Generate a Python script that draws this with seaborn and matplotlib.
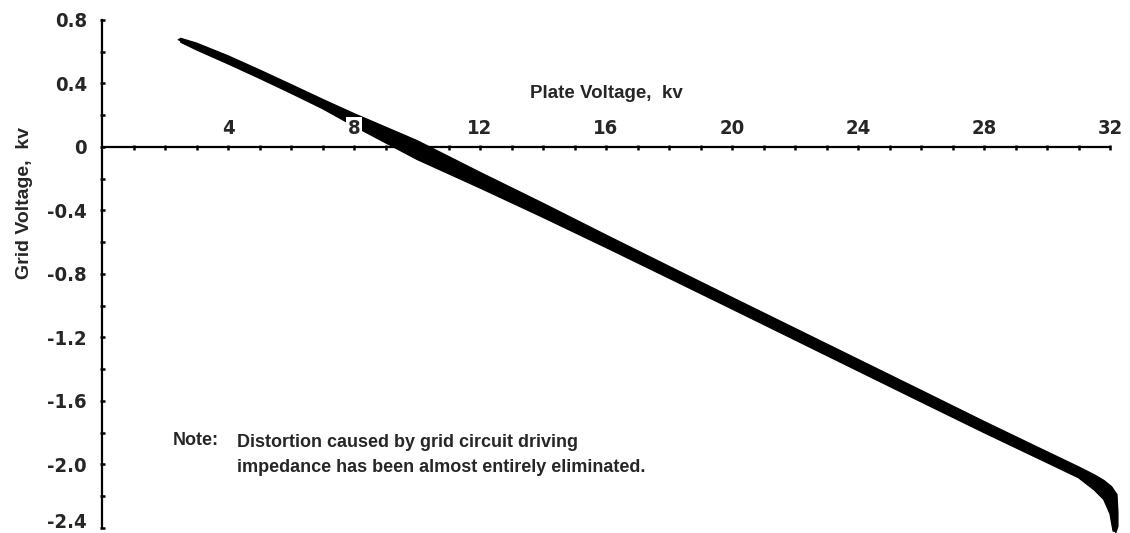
import numpy as np
import matplotlib
matplotlib.use("Agg")
import matplotlib.pyplot as plt
from matplotlib import font_manager
from matplotlib.ticker import FixedLocator, FixedFormatter
import seaborn as sns

# ---- data (kv) ----
upper_x = [2.42, 2.5, 3, 4, 5, 6, 7, 8, 9, 10, 11, 12, 14, 16, 18, 20, 22, 24,
           26, 28, 30, 31, 31.5, 31.8, 32.05, 32.22, 32.25, 32.25, 32.18]
upper_y = [0.675, 0.684, 0.654, 0.574, 0.485, 0.393, 0.300, 0.210, 0.125, 0.040,
           -0.060, -0.160, -0.355, -0.555, -0.752, -0.948, -1.143, -1.338,
           -1.533, -1.729, -1.920, -2.015, -2.065, -2.100, -2.140, -2.190,
           -2.300, -2.390, -2.430]
lower_x = [2.5, 3, 4, 5, 6, 7, 8, 9, 10, 11, 12, 14, 16, 18, 20, 22, 24, 26,
           28, 30, 31, 31.5, 31.8, 32.0, 32.1]
lower_y = [0.660, 0.612, 0.524, 0.433, 0.339, 0.242, 0.132, 0.027, -0.078,
           -0.168, -0.258, -0.443, -0.633, -0.826, -1.020, -1.215, -1.410,
           -1.605, -1.799, -1.988, -2.083, -2.160, -2.220, -2.310, -2.420]

x_major = [4, 8, 12, 16, 20, 24, 28, 32]
x_major_labels = ["4", "8", "12", "16", "20", "24", "28", "32"]
x_minor = list(range(1, 33))
y_major = [0.8, 0.4, 0.0, -0.4, -0.8, -1.2, -1.6, -2.0, -2.4]
y_major_labels = ["0.8", "0.4", "0", "-0.4", "-0.8", "-1.2", "-1.6", "-2.0", "-2.4"]
y_minor = [0.6, 0.2, -0.2, -0.6, -1.0, -1.4, -1.8, -2.2]

x_label = "Plate Voltage,  kv"
y_label = "Grid Voltage,  kv"
note_head = "Note:"
note_body = "Distortion caused by grid circuit driving\nimpedance has been almost entirely eliminated."

# ---- style ----
sns.set_style("white")
ttf = font_manager.fontManager.ttflist
names = {f.name for f in ttf}
regular = "Liberation Sans" if "Liberation Sans" in names else "DejaVu Sans"
plt.rcParams["font.family"] = [regular, "DejaVu Sans"]

# condensed face for the tick digits, if one is installed
tick_family, tick_stretch, tick_size = [regular, "DejaVu Sans"], "normal", 14.5
if "Liberation Sans Narrow" in names:
    tick_family, tick_size = ["Liberation Sans Narrow", "DejaVu Sans"], 15.5
elif any(f.name == "DejaVu Sans" and f.stretch == "condensed" and f.weight in (700, "bold") for f in ttf):
    tick_family, tick_stretch, tick_size = ["DejaVu Sans"], "condensed", 14.5

fig = plt.figure(figsize=(11.3, 5.33), dpi=100)
ax = fig.add_axes([0.0903, 0.0094, 0.8920, 0.9531])
ax.set_xlim(0, 32)
ax.set_ylim(-2.4, 0.8)
ax.set_axisbelow(False)

# trace band (oscilloscope loop)
loop_x = np.r_[upper_x, lower_x[::-1]]
loop_y = np.r_[upper_y, lower_y[::-1]]
ax.fill(loop_x, loop_y, color="black", lw=0, clip_on=False, zorder=2)
sns.lineplot(x=upper_x, y=upper_y, sort=False, color="black", lw=1.0,
             clip_on=False, zorder=2, ax=ax, estimator=None)
sns.lineplot(x=lower_x, y=lower_y, sort=False, color="black", lw=1.0,
             clip_on=False, zorder=2, ax=ax, estimator=None)

# spines
ax.spines["right"].set_visible(False)
ax.spines["bottom"].set_position(("data", 0))
ax.spines["top"].set_position(("data", 0))
ax.spines["top"].set_visible(False)
for s in ["left", "bottom"]:
    ax.spines[s].set_linewidth(1.6)
    ax.spines[s].set_color("black")
    ax.spines[s].set_zorder(2.5)

# ticks
ax.xaxis.set_major_locator(FixedLocator(x_major))
ax.xaxis.set_major_formatter(FixedFormatter(x_major_labels))
ax.xaxis.set_minor_locator(FixedLocator(x_minor))
ax.yaxis.set_major_locator(FixedLocator(y_major))
ax.yaxis.set_major_formatter(FixedFormatter(y_major_labels))
ax.yaxis.set_minor_locator(FixedLocator(y_minor))

ax.tick_params(axis="x", which="both", direction="inout", length=3.6, width=1.8,
               color="black", bottom=True, top=False, labelbottom=False,
               labeltop=True, pad=5.0)
ax.tick_params(axis="y", which="both", direction="inout", length=3.6, width=1.8,
               color="black", left=True, pad=9)

def style_label(lbl):
    lbl.set_fontfamily(tick_family)
    lbl.set_fontstretch(tick_stretch)
    lbl.set_fontweight("bold")
    lbl.set_fontsize(tick_size)

for t in ax.xaxis.get_major_ticks():
    style_label(t.label2)
    t.label2.set_bbox(dict(facecolor="white", edgecolor="none", pad=1.5))
yticks = ax.yaxis.get_major_ticks()
for t in yticks:
    style_label(t.label1)
# bottom label sits on its baseline so it stays inside the figure
yticks[-1].label1.set_verticalalignment("baseline")

# axis labels
ax.text(16.0, 0.34, x_label, ha="center", va="center", fontsize=13.5,
        fontweight="bold", zorder=3)
ax.text(-2.45, -0.35, y_label, ha="center", va="center", rotation=90,
        fontsize=14, fontweight="bold", zorder=3, clip_on=False)

# note
ax.text(2.25, -1.85, note_head, ha="left", va="center", fontsize=13,
        fontweight="bold")
ax.text(4.29, -1.94, note_body, ha="left", va="center", fontsize=13,
        fontweight="bold", linespacing=1.55)

fig.savefig("out.png", dpi=100, facecolor="white")
